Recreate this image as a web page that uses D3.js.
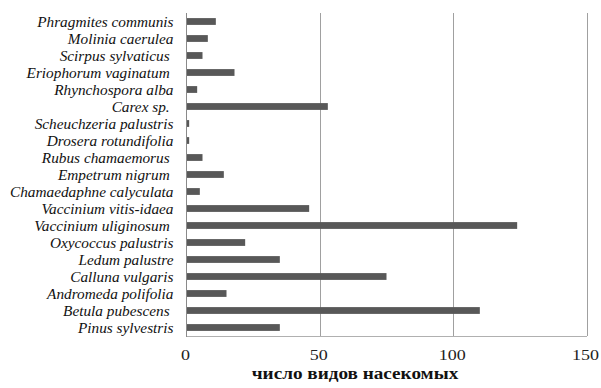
<!DOCTYPE html>
<html><head><meta charset="utf-8">
<script src="https://cdn.jsdelivr.net/npm/d3@7"></script>
<style>body{margin:0;background:#fff}svg{display:block}</style>
</head><body>
<svg id="c" width="601" height="388"></svg>
<script>
const categories = ["Phragmites communis","Molinia caerulea","Scirpus sylvaticus ","Eriophorum vaginatum ","Rhynchospora alba","Carex sp. ","Scheuchzeria palustris","Drosera rotundifolia","Rubus chamaemorus ","Empetrum nigrum ","Chamaedaphne calyculata","Vaccinium vitis-idaea","Vaccinium uliginosum ","Oxycoccus palustris","Ledum palustre","Calluna vulgaris","Andromeda polifolia","Betula pubescens ","Pinus sylvestris"];
const values = [11,8,6,18,4,53,1,1,6,14,5,46,124,22,35,75,15,110,35];
const xTicks = [0,50,100,150];
const xTitle = "число видов насекомых";

const svg = d3.select("#c");
const x = d3.scaleLinear().domain([0,150]).range([186.5,586.5]);
const y = d3.scaleBand().domain(categories).range([13,336]).paddingInner(0.6).paddingOuter(0.3);
const SX = 1.2, LX = 1.02;

// gridlines
svg.append("g").selectAll("line").data(xTicks.filter(d=>d>0)).join("line")
  .attr("x1",d=>Math.round(x(d))+0.5).attr("x2",d=>Math.round(x(d))+0.5)
  .attr("y1",13).attr("y2",336).attr("stroke","#a0a0a0").attr("stroke-width",1);
// bottom line
svg.append("line").attr("x1",x(0)).attr("x2",x(150)+0.5).attr("y1",336.5).attr("y2",336.5).attr("stroke","#b0b0b0");
// bars
svg.append("g").selectAll("rect").data(values).join("rect")
  .attr("x",x(0)).attr("y",(d,i)=>y(categories[i]))
  .attr("width",d=>x(d)-x(0)).attr("height",y.bandwidth())
  .attr("fill","#585858");
// left axis line
svg.append("line").attr("x1",x(0)).attr("x2",x(0)).attr("y1",13).attr("y2",337).attr("stroke","#8a8a8a");
// category labels
svg.append("g").selectAll("text").data(categories).join("text")
  .attr("transform",d=>`translate(173.5,${y(d)+y.bandwidth()/2}) scale(${LX},1)`)
  .attr("text-anchor","end").attr("dominant-baseline","central")
  .style("white-space","pre")
  .attr("font-family","'Liberation Serif','Times New Roman',serif").attr("font-style","italic")
  .attr("font-size",15).attr("fill","#111")
  .text(d=>d);
// x tick labels
svg.append("g").selectAll("text").data(xTicks).join("text")
  .attr("transform",d=>`translate(${x(d)-1},${355}) scale(${SX},1)`)
  .attr("text-anchor","middle").attr("dominant-baseline","central")
  .attr("font-family","'Liberation Serif','Times New Roman',serif")
  .attr("font-size",15).attr("fill","#222").text(d=>d);
// title
svg.append("text").attr("transform",`translate(355,374) scale(${SX},1)`)
  .attr("text-anchor","middle").attr("dominant-baseline","central")
  .attr("font-family","'Liberation Serif','Times New Roman',serif").attr("font-weight","bold")
  .attr("font-size",16).attr("fill","#111").text(xTitle);
</script>
</body></html>
